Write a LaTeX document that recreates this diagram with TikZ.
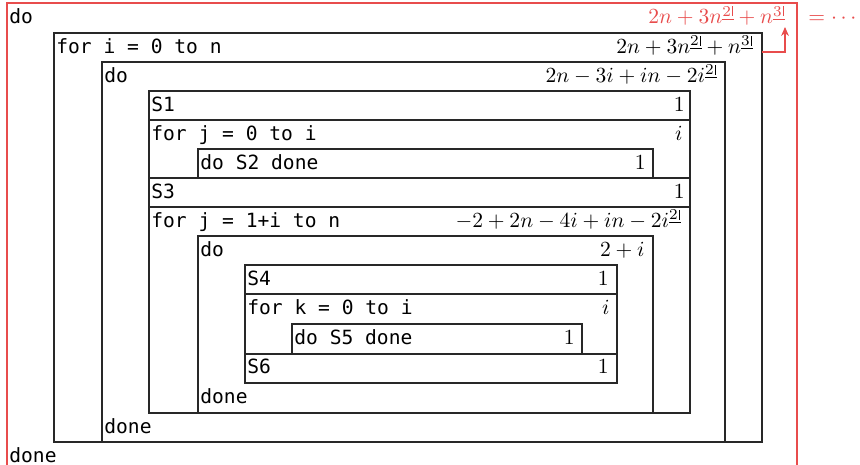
\documentclass[tikz,border=0pt]{standalone}
\usepackage{fix-cm}
\usepackage{fontspec}
\setmainfont{DejaVu Sans Mono}
\usetikzlibrary{arrows.meta,fit}
\definecolor{rd}{RGB}{232,76,76}
\definecolor{ln}{RGB}{40,40,40}
\newcommand\bx[1]{\underline{\hbox{$\scriptstyle #1$\kern0.6pt\vrule}}}
\begin{document}
\begin{tikzpicture}[x=0.5102pt,y=-0.5102pt,
  box/.style={draw=ln,line width=0.55pt,inner sep=0pt,outer sep=0pt},
  rbox/.style={draw=rd,line width=0.55pt,inner sep=0pt,outer sep=0pt},
  code/.style={anchor=base west,inner sep=0pt,font=\fontsize{10}{12}\selectfont},
  cost/.style={anchor=base east,inner sep=0pt,font=\fontsize{11}{13}\selectfont},
  arr/.style={draw=rd,line width=0.55pt,-{Stealth[length=4.6pt,width=4pt]}}]
\useasboundingbox (0,0) rectangle (860,465);
% boxes
\node[rbox,fit={(7,3) (797,490)}] (outer) {};
\node[box,fit={(54,33) (762,442)}] (fori) {};
\node[box,fit={(102,62) (725,442)}] (doa) {};
\node[box,fit={(149,91) (690,120)}] (sa) {};
\node[box,fit={(149,120) (690,178)}] (forja) {};
\node[box,fit={(198,149) (653,178)}] (sb) {};
\node[box,fit={(149,178) (690,207)}] (sc) {};
\node[box,fit={(149,207) (690,413)}] (forjb) {};
\node[box,fit={(198,236) (653,413)}] (dob) {};
\node[box,fit={(245,265) (617,294)}] (sd) {};
\node[box,fit={(245,294) (617,354)}] (fork) {};
\node[box,fit={(292,324) (582,354)}] (se) {};
\node[box,fit={(245,354) (617,383)}] (sf) {};
% code texts
\node[code] (t1) at (9,24) {do};
\node[code] (t2) at (56,53.7) {for i = 0 to n};
\node[code] (t3) at (104,82.7) {do};
\node[code] (t4) at (151,111.7) {S1};
\node[code] (t5) at (151,140.7) {for j = 0 to i};
\node[code] (t6) at (200,169.7) {do S2 done};
\node[code] (t7) at (151,198.7) {S3};
\node[code] (t8) at (151,227.7) {for j = 1+i to n};
\node[code] (t9) at (200,256.7) {do};
\node[code] (t10) at (247,285.7) {S4};
\node[code] (t11) at (247,314.7) {for k = 0 to i};
\node[code] (t12) at (294,344.7) {do S5 done};
\node[code] (t13) at (247,373.7) {S6};
\node[code] (t14) at (200,403.7) {done};
\node[code] (t15) at (104,433.7) {done};
\node[code] (t16) at (9,462.7) {done};
% costs
\node[cost,text=rd] (c0) at (785,24) {$2n+3n^{\bx{2}}+n^{\bx{3}}$};
\node[anchor=base west,inner sep=0pt,text=rd,font=\fontsize{11}{13}\selectfont] (eq) at (808,24) {$=\cdots$};
\node[cost] (c1) at (753,53.7) {$2n+3n^{\bx{2}}+n^{\bx{3}}$};
\node[cost] (c2) at (717,82.7) {$2n-3i+in-2i^{\bx{2}}$};
\node[cost] (c3) at (685,111.7) {$1$};
\node[cost] (c4) at (683,140.7) {$i$};
\node[cost] (c5) at (646,169.7) {$1$};
\node[cost] (c6) at (685,198.7) {$1$};
\node[cost] (c7) at (681,227.7) {$-2+2n-4i+in-2i^{\bx{2}}$};
\node[cost] (c8) at (645,256.7) {$2+i$};
\node[cost] (c9) at (609,285.7) {$1$};
\node[cost] (c10) at (610,314.7) {$i$};
\node[cost] (c11) at (575,344.7) {$1$};
\node[cost] (c12) at (609,373.7) {$1$};
% arrow
\coordinate (tip) at (785,27);
\draw[arr] ([yshift=-9.7pt]fori.north east) -| (tip);
\end{tikzpicture}
\end{document}
